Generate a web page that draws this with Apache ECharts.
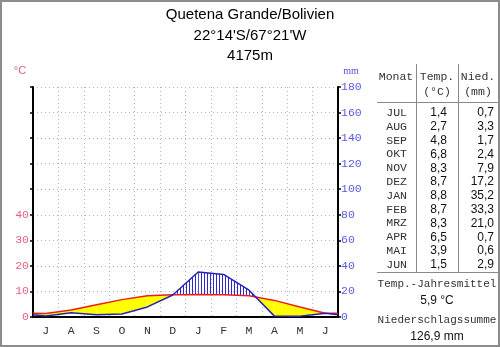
<!DOCTYPE html>
<html>
<head>
<meta charset="utf-8">
<script src="https://cdn.jsdelivr.net/npm/echarts@6/dist/echarts.min.js"></script>
<style>html,body{margin:0;padding:0;background:#fff;}#c{width:500px;height:347px;}</style>
</head>
<body>
<div id="c"></div>
<script>
// ---- data ----
const months = ['JUL','AUG','SEP','OKT','NOV','DEZ','JAN','FEB','MRZ','APR','MAI','JUN'];
const temp = [1.4, 2.7, 4.8, 6.8, 8.3, 8.7, 8.8, 8.7, 8.3, 6.5, 3.9, 1.5];
const prec = [0.7, 3.3, 1.7, 2.4, 7.9, 17.2, 35.2, 33.3, 21.0, 0.7, 0.6, 2.9];
const edgeTemp = 1.45;   // value where the temperature curve meets both side axes
const edgePrec = 1.8;    // value where the precipitation curve meets both side axes
const titleLines = ['Quetena Grande/Bolivien', "22°14'S/67°21'W", '4175m'];
const tempTicks = [0, 10, 20, 30, 40];

// ---- derived ----
const xs = [0].concat(months.map((m, i) => i + 0.5), [12]);
const T = [edgeTemp].concat(temp, [edgeTemp]);
const P = [edgePrec].concat(prec, [edgePrec]);
const fmt = v => v.toFixed(1).replace('.', ',');
const meanT = temp.reduce((a, b) => a + b, 0) / temp.length;
const sumP = prec.reduce((a, b) => a + b, 0);

const blue = '#2424b4';
const red = '#ee1c1c';
const hatch = document.createElement('canvas');
hatch.width = 3; hatch.height = 3;
(function () { const g = hatch.getContext('2d'); g.fillStyle = '#2a2ad0'; g.fillRect(0, 0, 1, 3); })();

const segs = [];
for (let i = 0; i < xs.length - 1; i++) segs.push([i, 0]);

function renderSeg(params, api) {
  const i = api.value(0);
  const xa = xs[i], xb = xs[i + 1];
  const ta = T[i] * 2, tb = T[i + 1] * 2, pa = P[i], pb = P[i + 1];
  const da = ta - pa, db = tb - pb;
  const pieces = [];
  if (da * db < 0) {
    const f = da / (da - db);
    const xm = xa + f * (xb - xa), ym = pa + f * (pb - pa);
    pieces.push([xa, pa, ta, xm, ym, ym, da]);
    pieces.push([xm, ym, ym, xb, pb, tb, db]);
  } else {
    pieces.push([xa, pa, ta, xb, pb, tb, da + db]);
  }
  return {
    type: 'group',
    children: pieces.map(p => ({
      type: 'polygon',
      shape: { points: [api.coord([p[0], p[1]]), api.coord([p[3], p[4]]), api.coord([p[3], p[5]]), api.coord([p[0], p[2]])] },
      style: p[6] > 0 ? { fill: '#ffff00' } : { fill: { image: hatch, repeat: 'repeat' } }
    }))
  };
}

// ---- table graphics ----
const mono = 'Liberation Mono';
const sans = 'Liberation Sans';
const g = [];
function txt(x, y, s, opt) {
  g.push({ type: 'text', x: x, y: y, silent: true,
    style: Object.assign({ text: s, textVerticalAlign: 'middle', textAlign: 'center', fontFamily: mono, fontSize: 11, fill: '#333' }, opt || {}) });
}
function ln(x1, y1, x2, y2) {
  g.push({ type: 'line', silent: true, shape: { x1, y1, x2, y2 }, style: { stroke: '#8a8a8a', lineWidth: 1 } });
}
titleLines.forEach((s, i) => txt(250, 15 + i * 20.5, s, { fontFamily: sans, fontSize: 15, fill: '#000' }));
txt(20, 71, '°C', { fontFamily: sans, fontSize: 11, fill: '#e8607e' });
txt(351, 71, 'mm', { fontFamily: 'Liberation Serif', fontSize: 10, fill: '#5050d8' });
txt(396, 77, 'Monat', { fontSize: 11.5 });
txt(437, 77, 'Temp.', { fontSize: 11.5 });
txt(478, 77, 'Nied.', { fontSize: 11.5 });
txt(437, 92, '(°C)', { fontSize: 11.5 });
txt(478, 92, '(mm)', { fontSize: 11.5 });
ln(377, 102.5, 499, 102.5);
ln(416.5, 64, 416.5, 272);
ln(458.5, 64, 458.5, 272);
ln(377, 272.5, 499, 272.5);
months.forEach((m, i) => {
  const y = 113 + i * 13.8;
  txt(407, y, m, { textAlign: 'right', fontSize: 11.5 });
  txt(447, y, fmt(temp[i]), { textAlign: 'right', fontFamily: sans, fontSize: 12, fill: '#111' });
  txt(494, y, fmt(prec[i]), { textAlign: 'right', fontFamily: sans, fontSize: 12, fill: '#111' });
});
txt(437, 284, 'Temp.-Jahresmittel');
txt(437, 301, fmt(meanT) + ' °C', { fontFamily: sans, fontSize: 12, fill: '#111' });
txt(437, 320, 'Niederschlagssumme');
txt(437, 337, fmt(sumP) + ' mm', { fontFamily: sans, fontSize: 12, fill: '#111' });
g.push({ type: 'rect', silent: true, shape: { x: 1, y: 1, width: 498, height: 345 }, style: { fill: 'none', stroke: '#8c8c8c', lineWidth: 2 } });

const split = { show: true, lineStyle: { type: [1, 3], color: '#b4b4b4', width: 1 } };
const chart = echarts.init(document.getElementById('c'), null, { renderer: 'canvas' });
chart.setOption({
  animation: false,
  backgroundColor: '#fff',
  grid: { left: 33, right: 162, top: 87, bottom: 30 },
  xAxis: [
    { type: 'category', data: months, boundaryGap: true, position: 'bottom',
      axisLine: { lineStyle: { color: '#000', width: 2 } },
      axisTick: { length: 5, lineStyle: { color: '#000', width: 2 } },
      axisLabel: { formatter: v => v[0], fontFamily: mono, fontSize: 11.5, color: '#333', margin: 8 },
      splitLine: split },
    { type: 'value', min: 0, max: 12, show: false }
  ],
  yAxis: [
    { type: 'value', min: 0, max: 90, interval: 10, position: 'left',
      axisLine: { show: true, lineStyle: { color: '#000', width: 2 } },
      axisTick: { show: true, length: 3, lineStyle: { color: '#000', width: 1.5 } },
      axisLabel: { formatter: v => tempTicks.indexOf(v) >= 0 ? String(v) : '', color: '#e8607e', fontFamily: mono, fontSize: 11.5, margin: 4 },
      splitLine: split },
    { type: 'value', min: 0, max: 180, interval: 20, position: 'right',
      axisLine: { show: true, lineStyle: { color: '#000', width: 2 } },
      axisTick: { show: true, length: 3, lineStyle: { color: '#000', width: 1.5 } },
      axisLabel: { color: '#5a5ae0', fontFamily: mono, fontSize: 11.5, margin: 3 },
      splitLine: { show: false } }
  ],
  series: [
    { type: 'custom', coordinateSystem: 'cartesian2d', xAxisIndex: 1, yAxisIndex: 1, z: 1,
      renderItem: renderSeg, data: segs, silent: true },
    { type: 'line', xAxisIndex: 1, yAxisIndex: 0, z: 3, symbol: 'none',
      data: xs.map((x, k) => [x, T[k]]), lineStyle: { color: red, width: 1.5 } },
    { type: 'line', xAxisIndex: 1, yAxisIndex: 1, z: 4, symbol: 'none',
      data: xs.map((x, k) => [x, P[k]]), lineStyle: { color: blue, width: 1.5 } }
  ],
  graphic: g
});
</script>
</body>
</html>
